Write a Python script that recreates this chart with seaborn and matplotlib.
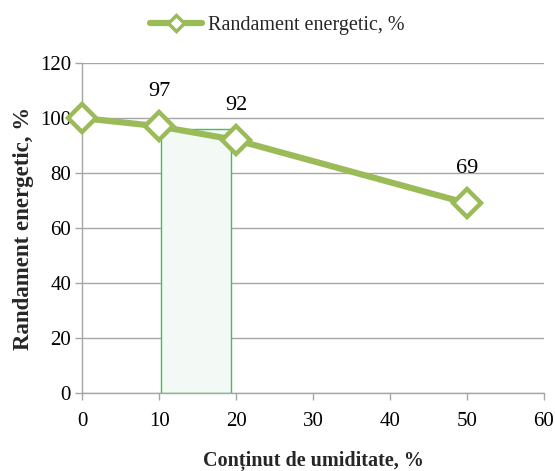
import matplotlib
matplotlib.use("Agg")
import matplotlib.pyplot as plt
import seaborn as sns
import pandas as pd
from matplotlib.patches import Rectangle
from matplotlib.lines import Line2D

moisture = [0, 10, 20, 50]
efficiency = [100, 97, 92, 69]
labels = ["", "97", "92", "69"]
series_name = "Randament energetic, %"
xticks = [0, 10, 20, 30, 40, 50, 60]
yticks = [0, 20, 40, 60, 80, 100, 120]
highlight = (10.3, 19.4, 96.2)  # x start, x end, top

sns.set_theme(style="white")
plt.rcParams['font.family'] = ['Liberation Serif', 'DejaVu Serif']

green = "#9BBB59"
df = pd.DataFrame({"x": moisture, "y": efficiency})

fig = plt.figure(figsize=(5.55, 4.71), dpi=100)
ax = fig.add_axes([0.148, 0.166, 0.832, 0.700])

for t in yticks:
    ax.axhline(t, color="#A6A6A6", lw=1.0, zorder=0)

x0, x1, top = highlight
ax.add_patch(Rectangle((x0, 0), x1 - x0, top, facecolor="#F3FAF5",
                       edgecolor="#3CC05A", lw=1.0, zorder=1))

sns.lineplot(data=df, x="x", y="y", ax=ax, color=green, lw=4.5,
             marker="D", markersize=14, markerfacecolor="white",
             markeredgecolor=green, markeredgewidth=3.2, zorder=3, clip_on=False)

for xv, yv, lab in zip(moisture, efficiency, labels):
    if lab:
        ax.annotate(lab, (xv, yv), xytext=(0, 25), textcoords="offset points",
                    ha="center", va="center", fontsize=16, color="#000000")

ax.set_xlim(0, 60)
ax.set_ylim(0, 120)
ax.set_xticks(xticks)
ax.set_yticks(yticks)
ax.tick_params(axis="both", labelsize=15, colors="#000000", length=5,
               direction="out", width=1, color="#A6A6A6", left=True, bottom=True)
ax.tick_params(axis="x", pad=9)
ax.tick_params(axis="y", pad=3)
for s in ["top", "right"]:
    ax.spines[s].set_visible(False)
for s in ["left", "bottom"]:
    ax.spines[s].set_color("#A6A6A6")
    ax.spines[s].set_linewidth(1)

ax.set_xlabel("Conținut de umiditate, %", fontsize=14.5, fontweight="bold", labelpad=14)
ax.set_ylabel("Randament energetic, %", fontsize=16.5, fontweight="bold", labelpad=4)

handle = Line2D([], [], color=green, lw=4.5, marker="D", markersize=8,
                markerfacecolor="white", markeredgecolor=green, markeredgewidth=2.5)
fig.legend([handle], [series_name], loc="center", bbox_to_anchor=(0.5, 0.945),
           frameon=False, fontsize=14.5, handlelength=2.6, handletextpad=0.3)

fig.savefig("out.png", dpi=100)
